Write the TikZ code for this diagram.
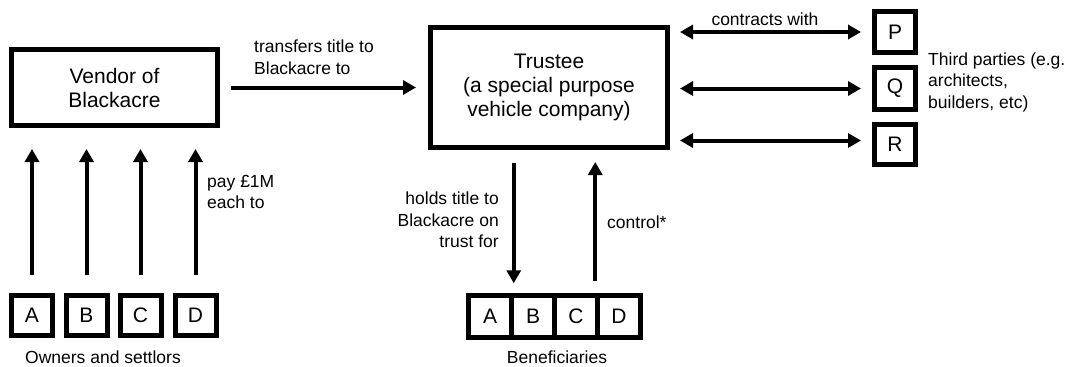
\documentclass[tikz,border=0pt]{standalone}
\usepackage{fontspec}
\setmainfont{Liberation Sans}
\usetikzlibrary{arrows.meta,calc}
\begin{document}
\begin{tikzpicture}[x=1pt,y=-1pt,
 box/.style={draw,line width=5pt,inner sep=0pt,font=\fontsize{21}{24}\selectfont,align=center},
 sq/.style={box,minimum width=41pt,minimum height=40pt},
 cell/.style={box,line width=4.5pt,minimum width=43pt,minimum height=42pt},
 lbl/.style={inner sep=0pt,font=\fontsize{17.5}{21.5}\selectfont},
 arr/.style={line width=4pt,-{Triangle[length=13pt,width=14pt]}},
 dbl/.style={line width=4pt,{Triangle[length=13pt,width=14pt]}-{Triangle[length=13pt,width=14pt]}}]
\fill[white] (0,0) rectangle (1072,367);
\useasboundingbox (0,0) rectangle (1072,367);
% main boxes
\node[box,minimum width=206pt,minimum height=76pt] (V) at (114.5,87.5) {Vendor of\\Blackacre};
\node[box,minimum width=237pt,minimum height=120pt] (T) at (549,87.5) {Trustee\\(a special purpose\\vehicle company)};
% third parties
\node[sq,minimum height=41pt] (P) at (895,32) {P};
\node[sq,minimum height=42pt] (Q) at (895,88.5) {Q};
\node[sq,minimum height=40pt] (R) at (895,144.5) {R};
% owners
\node[sq] (A) at (32,315.5) {A};
\node[sq] (B) at (86.5,315.5) {B};
\node[sq] (C) at (140.5,315.5) {C};
\node[sq] (D) at (195.5,315.5) {D};
% beneficiaries
\node[cell] (bA) at (490,316.5) {A};
\node[cell] (bB) at (533,316.5) {B};
\node[cell] (bC) at (576,316.5) {C};
\node[cell] (bD) at (619,316.5) {D};
% connectors
\draw[arr,shorten <=11pt,shorten >=12pt] (V.east) -- (T.west);
\foreach \n in {A,B,C,D}{
  \draw[arr,shorten <=18pt,shorten >=21pt] (\n.north) -- (\n.north |- V.south);
}
\draw[arr,shorten <=13pt,shorten >=10pt] (T.south -| bA.north east) -- (bA.north east);
\draw[arr,shorten <=12pt,shorten >=12pt] (bD.north west) -- (T.south -| bD.north west);
\draw[dbl,shorten <=10pt,shorten >=11pt] (T.east |- P.west) -- (P.west);
\draw[dbl,shorten <=10pt,shorten >=11pt] (T.east |- Q.west) -- (Q.west);
\coordinate (Rw) at ($(R.west)+(0,-4)$);
\draw[dbl,shorten <=10pt,shorten >=11pt] (T.east |- Rw) -- (Rw);
% labels
\node[lbl,anchor=west,align=left] (l1) at (254,57) {transfers title to\\Blackacre to};
\node[lbl] (l2) at (765,19) {contracts with};
\node[lbl,anchor=west,align=left] (l3) at (928,82) {Third parties (e.g.\\architects,\\builders, etc)};
\node[lbl,anchor=west,align=left] (l4) at (207,192) {pay £1M\\each to};
\node[lbl,anchor=east,align=right] (l5) at (499,220) {holds title to\\Blackacre on\\trust for};
\node[lbl,anchor=west] (l6) at (607,222) {control*};
\node[lbl] (l7) at (103,357) {Owners and settlors};
\node[lbl] (l8) at (557,357) {Beneficiaries};
\end{tikzpicture}
\end{document}
